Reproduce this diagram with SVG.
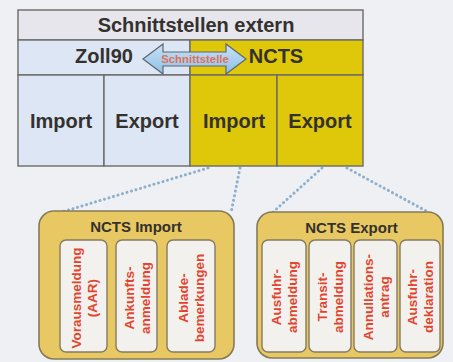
<svg xmlns="http://www.w3.org/2000/svg" width="453" height="362" viewBox="0 0 453 362">
<defs>
<linearGradient id="arrowGrad" x1="0" y1="0" x2="0" y2="1">
<stop offset="0" stop-color="#c8e2f6"/>
<stop offset="1" stop-color="#8fbfe6"/>
</linearGradient>
<style>
.cell{stroke:#6b6b66;stroke-width:1.4}
.big{font-family:"Liberation Sans",Arial,sans-serif;font-weight:bold;font-size:20px;fill:#34312e;text-anchor:middle}
.title{font-family:"Liberation Sans",Arial,sans-serif;font-weight:bold;font-size:15px;fill:#34312e;text-anchor:middle}
.outer{fill:#e8c862;stroke:#857a58;stroke-width:1.6}
.inner{fill:#f3f1ee;stroke:#857a62;stroke-width:1.4}
.vt{font-family:"Liberation Sans",Arial,sans-serif;font-weight:bold;font-size:13.5px;fill:#e2452f;text-anchor:middle}
.dot{fill:none;stroke:#8eb0cc;stroke-width:3;stroke-linecap:round;stroke-dasharray:0.1 4.6}
</style>
</defs>
<rect x="0" y="0" width="453" height="362" fill="#eef0f3"/>

<g id="connectors">
<line class="dot" x1="208" y1="168" x2="62" y2="212"/>
<line class="dot" x1="240" y1="168" x2="231" y2="213"/>
<line class="dot" x1="322" y1="168" x2="272" y2="213"/>
<line class="dot" x1="347" y1="168" x2="428" y2="212"/>
</g>

<g id="table">
<rect class="cell" x="18" y="10" width="345" height="30" fill="#e6e6ec"/>
<rect class="cell" x="18" y="40" width="172" height="35" fill="#dde6f4"/>
<rect class="cell" x="190" y="40" width="173" height="35" fill="#dfc70a"/>
<rect class="cell" x="18" y="75" width="86" height="91" fill="#dde6f4"/>
<rect class="cell" x="104" y="75" width="86" height="91" fill="#dde6f4"/>
<rect class="cell" x="190" y="75" width="87" height="91" fill="#dfc70a"/>
<rect class="cell" x="277" y="75" width="86" height="91" fill="#dfc70a"/>
<text class="big" x="196" y="32">Schnittstellen extern</text>
<text class="big" x="104" y="63">Zoll90</text>
<text class="big" x="276" y="63">NCTS</text>
<text class="big" x="61" y="128">Import</text>
<text class="big" x="147" y="128">Export</text>
<text class="big" x="234" y="128">Import</text>
<text class="big" x="320" y="128">Export</text>
</g>

<g id="schnittstelle">
<polygon points="143,59 163,44 163,52 226,52 226,44 246,59 226,74 226,66 163,66 163,74" fill="url(#arrowGrad)" stroke="#5f666e" stroke-width="1.2"/>
<text x="195" y="63" font-family="'Liberation Sans',Arial,sans-serif" font-weight="bold" font-size="11.4" fill="#e07058" text-anchor="middle">Schnittstelle</text>
</g>

<g id="ncts-import">
<rect class="outer" x="39" y="211" width="195" height="148" rx="15"/>
<text class="title" x="136" y="232">NCTS Import</text>
<rect class="inner" x="60" y="240" width="47" height="112" rx="6"/>
<rect class="inner" x="116" y="240" width="41" height="112" rx="6"/>
<rect class="inner" x="167" y="240" width="48" height="112" rx="6"/>
<g transform="translate(83.5,298) rotate(-90)">
<text class="vt" x="0" y="-3">Vorausmeldung</text>
<text class="vt" x="0" y="13">(AAR)</text>
</g>
<g transform="translate(136.5,298) rotate(-90)">
<text class="vt" x="0" y="-3">Ankunfts-</text>
<text class="vt" x="0" y="13">anmeldung</text>
</g>
<g transform="translate(191,298) rotate(-90)">
<text class="vt" x="0" y="-3">Ablade-</text>
<text class="vt" x="0" y="13">bemerkungen</text>
</g>
</g>

<g id="ncts-export">
<rect class="outer" x="257" y="212" width="186" height="146" rx="15"/>
<text class="title" x="351.5" y="233">NCTS Export</text>
<rect class="inner" x="262" y="240" width="44" height="112" rx="6"/>
<rect class="inner" x="309" y="240" width="42" height="112" rx="6"/>
<rect class="inner" x="354" y="240" width="43" height="112" rx="6"/>
<rect class="inner" x="400" y="240" width="40" height="112" rx="6"/>
<g transform="translate(284,297) rotate(-90)">
<text class="vt" x="0" y="-3">Ausfuhr-</text>
<text class="vt" x="0" y="13">abmeldung</text>
</g>
<g transform="translate(330,297) rotate(-90)">
<text class="vt" x="0" y="-3">Transit-</text>
<text class="vt" x="0" y="13">abmeldung</text>
</g>
<g transform="translate(375.5,297) rotate(-90)">
<text class="vt" x="0" y="-3">Annullations-</text>
<text class="vt" x="0" y="13">antrag</text>
</g>
<g transform="translate(420,297) rotate(-90)">
<text class="vt" x="0" y="-3">Ausfuhr-</text>
<text class="vt" x="0" y="13">deklaration</text>
</g>
</g>
</svg>
